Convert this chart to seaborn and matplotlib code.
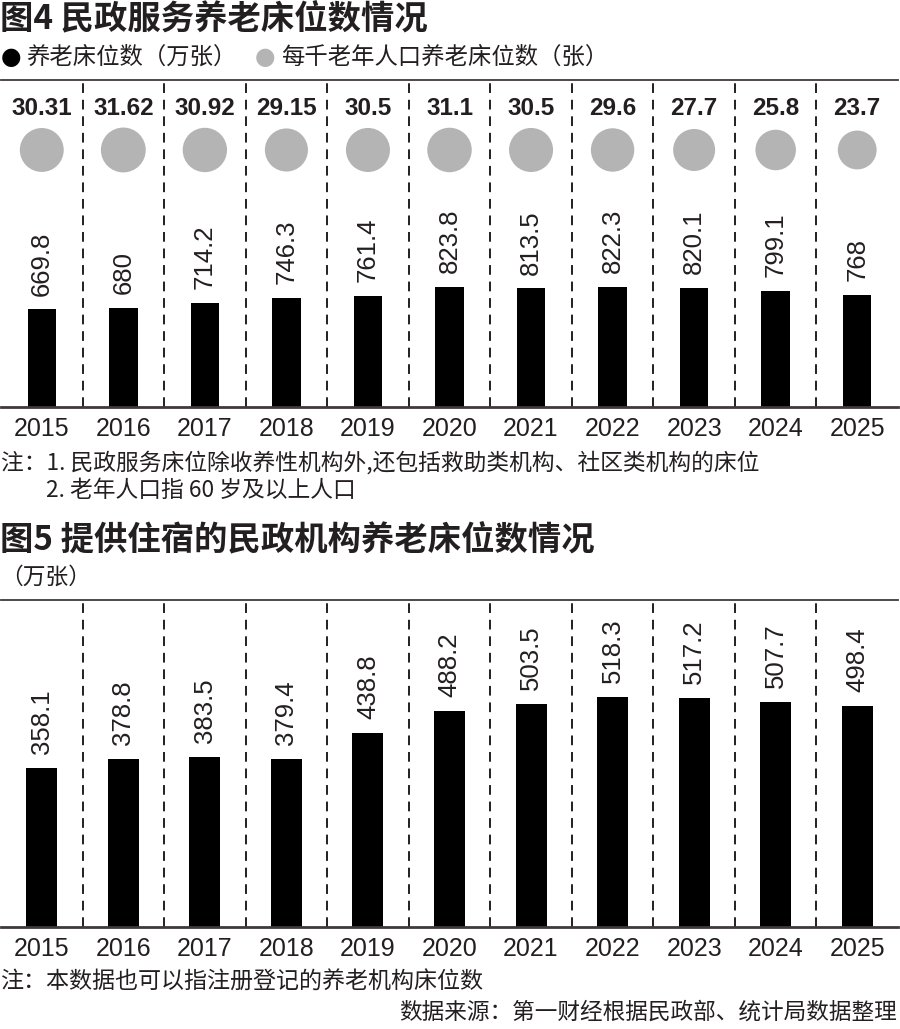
import matplotlib
matplotlib.use("Agg")
import matplotlib.pyplot as plt
import matplotlib.transforms as mtransforms
import seaborn as sns
import pandas as pd
import numpy as np

# data
years = ['2015', '2016', '2017', '2018', '2019', '2020', '2021', '2022', '2023', '2024', '2025']
beds_civil = [669.8, 680, 714.2, 746.3, 761.4, 823.8, 813.5, 822.3, 820.1, 799.1, 768]
beds_per_k = [30.31, 31.62, 30.92, 29.15, 30.5, 31.1, 30.5, 29.6, 27.7, 25.8, 23.7]
beds_per_k_labels = ['30.31', '31.62', '30.92', '29.15', '30.5', '31.1', '30.5', '29.6', '27.7', '25.8', '23.7']
beds_inst = [358.1, 378.8, 383.5, 379.4, 438.8, 488.2, 503.5, 518.3, 517.2, 507.7, 498.4]
beds_civil_labels = ['669.8', '680', '714.2', '746.3', '761.4', '823.8', '813.5', '822.3', '820.1', '799.1', '768']
beds_inst_labels = ['358.1', '378.8', '383.5', '379.4', '438.8', '488.2', '503.5', '518.3', '517.2', '507.7', '498.4']

sns.set_style('white')
CJK = ['Noto Sans CJK SC', 'DejaVu Sans']
NUM = ['Liberation Sans', 'DejaVu Sans']
plt.rcParams['font.family'] = CJK
TXT = '#231f20'
LINE = '#3e3a39'
GREY = '#b4b4b4'

W, H = 900, 1029
fig = plt.figure(figsize=(W / 100, H / 100), dpi=100)


def px_axes(top, bottom):
    return fig.add_axes([1 / W, 1 - bottom / H, 897 / W, (bottom - top) / H])


def draw_bars(ax, values, labels, ymax, width):
    df = pd.DataFrame({'year': years, 'value': values})
    sns.barplot(data=df, x='year', y='value', color='black', saturation=1,
                width=width, linewidth=0, ax=ax)
    ax.set_xlim(-0.5, len(years) - 0.5)
    ax.set_ylim(0, ymax)
    for i, (v, lab) in enumerate(zip(values, labels)):
        ax.annotate(lab, (i, v), xytext=(0, 10), textcoords='offset points',
                    rotation=90, ha='center', va='bottom', fontsize=18.5,
                    family=NUM, color=TXT)
    for xv in np.arange(0.5, len(years) - 0.5, 1):
        ax.axvline(xv, ymin=0, ymax=0.99, color=TXT, lw=1.4, ls=(0, (5, 3.5)))
    for s in ['left', 'right']:
        ax.spines[s].set_visible(False)
    ax.spines['top'].set_color(LINE)
    ax.spines['top'].set_linewidth(1.3)
    ax.spines['bottom'].set_color(LINE)
    ax.spines['bottom'].set_linewidth(2)
    ax.set_yticks([])
    ax.set_xlabel('')
    ax.set_ylabel('')
    ax.tick_params(axis='x', length=0, pad=7)
    ax.set_xticks(range(len(years)))
    ax.set_xticklabels(years, fontsize=18, family=NUM, color=TXT)


# chart 1
ax1 = px_axes(80, 407)
draw_bars(ax1, beds_civil, beds_civil_labels, 327 / 0.1457, 0.35)
tr = mtransforms.blended_transform_factory(ax1.transData, ax1.transAxes)
ax1.scatter(range(len(years)), [0.786] * len(years), transform=tr,
            s=[v / 30.31 * 1000 for v in beds_per_k], color=GREY, lw=0, zorder=3)
for i, lab in enumerate(beds_per_k_labels):
    ax1.text(i, 0.914, lab, transform=tr, ha='center', va='center', fontsize=17.5,
             family=NUM, fontweight='bold', color=TXT)

# chart 2
ax2 = px_axes(600, 927)
draw_bars(ax2, beds_inst, beds_inst_labels, 327 / 0.4432, 0.38)

# texts
fig.text(0 / W, 1 - 20 / H, '图4 民政服务养老床位数情况', fontsize=24, fontweight='bold',
         color=TXT, va='center')
fig.text(1 / W, 1 - 57 / H, '●', fontsize=17, color='black', va='center', family=['DejaVu Sans'])
fig.text(26 / W, 1 - 57 / H, '养老床位数（万张）', fontsize=16.8, color=TXT, va='center')
fig.text(255 / W, 1 - 57 / H, '●', fontsize=17, color=GREY, va='center', family=['DejaVu Sans'])
fig.text(281 / W, 1 - 57 / H, '每千老年人口养老床位数（张）', fontsize=16.8, color=TXT, va='center')
fig.text(1 / W, 1 - 463 / H, '注：1. 民政服务床位除收养性机构外,还包括救助类机构、社区类机构的床位',
         fontsize=16.4, color=TXT, va='center')
fig.text(46 / W, 1 - 490 / H, '2. 老年人口指 60 岁及以上人口', fontsize=16.4, color=TXT, va='center')
fig.text(0 / W, 1 - 541 / H, '图5 提供住宿的民政机构养老床位数情况', fontsize=24, fontweight='bold',
         color=TXT, va='center')
fig.text(0 / W, 1 - 577 / H, '（万张）', fontsize=16.4, color=TXT, va='center')
fig.text(1 / W, 1 - 982 / H, '注：本数据也可以指注册登记的养老机构床位数', fontsize=16.6,
         color=TXT, va='center')
fig.text(897 / W, 1 - 1012 / H, '数据来源：第一财经根据民政部、统计局数据整理', fontsize=16.3,
         color=TXT, va='center', ha='right')

fig.savefig('out.png', dpi=100)
